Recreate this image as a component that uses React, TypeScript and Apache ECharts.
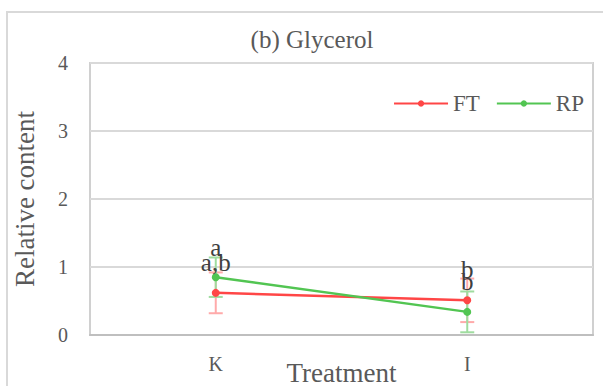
import React, { useEffect, useRef } from "react";
import * as echarts from "echarts";

const categories = ["K", "I"];
const ftValues = [0.62, 0.51];
const ftErrors = [0.3, 0.32];
const rpValues = [0.85, 0.34];
const rpErrors = [0.29, 0.3];
const ftLetters = ["a,b", "b"];
const rpLetters = ["a", "b"];
const yTicks = [0, 1, 2, 3, 4];

const FONT = "Liberation Serif";
const TEXT = "#595959";
const RED = "#FF4646";
const GREEN = "#52C552";
const RED_ERR = "#FFAAAA";
const GREEN_ERR = "#9FDC9F";

// Vertical error bars with caps, one custom series per group.
function errorSeries(name: string, values: number[], errors: number[], color: string) {
  const data = values.map((v, i) => [i, v, errors[i]]);
  return {
    type: "custom",
    name: name + "-err",
    z: 1,
    data,
    renderItem: (params: any, api: any) => {
      const x = api.value(0);
      const v = api.value(1);
      const e = api.value(2);
      const top = api.coord([x, v + e]);
      const bot = api.coord([x, v - e]);
      const half = 7;
      const lineStyle = { stroke: color, lineWidth: 2 };
      return {
        type: "group",
        children: [
          { type: "line", shape: { x1: top[0], y1: top[1], x2: bot[0], y2: bot[1] }, style: lineStyle },
          { type: "line", shape: { x1: top[0] - half, y1: top[1], x2: top[0] + half, y2: top[1] }, style: lineStyle },
          { type: "line", shape: { x1: bot[0] - half, y1: bot[1], x2: bot[0] + half, y2: bot[1] }, style: lineStyle },
        ],
      };
    },
  };
}

// Significance letters sitting just above each error bar's upper cap.
function letterSeries(name: string, values: number[], errors: number[], letters: string[]) {
  const data = values.map((v, i) => [i, v + errors[i], letters[i]]);
  return {
    type: "custom",
    name: name + "-letters",
    z: 5,
    data,
    renderItem: (params: any, api: any) => {
      const p = api.coord([api.value(0), api.value(1)]);
      return {
        type: "text",
        x: p[0],
        y: p[1] + 3,
        style: {
          text: api.value(2),
          fill: "#404040",
          fontFamily: FONT,
          fontSize: 25,
          align: "center",
          verticalAlign: "bottom",
        },
      };
    },
  };
}

export default function App() {
  const ref = useRef<HTMLDivElement>(null);
  useEffect(() => {
    if (!ref.current) return;
    const chart = echarts.init(ref.current, undefined, { renderer: "svg" });
    chart.setOption({
      animation: false,
      backgroundColor: "#ffffff",
      textStyle: { fontFamily: FONT },
      title: {
        text: "(b) Glycerol",
        left: 307,
        top: 22,
        textAlign: "center",
        textStyle: { fontFamily: FONT, fontSize: 25, fontWeight: "normal", color: TEXT },
      },
      legend: {
        right: 14,
        top: 87,
        itemWidth: 54,
        itemHeight: 8,
        itemGap: 16,
        textStyle: { fontFamily: FONT, fontSize: 23, color: TEXT },
        data: ["FT", "RP"],
      },
      graphic: [
        {
          type: "rect",
          shape: { x: 7, y: 12, width: 620, height: 400 },
          style: { fill: "none", stroke: "#D9D9D9", lineWidth: 2 },
          z: -1,
        },
      ],
      grid: {
        left: 90,
        right: 10,
        top: 63,
        bottom: 51,
        outerBoundsMode: "none",
        containLabel: false,
        show: true,
        borderColor: "#D0D0D0",
        borderWidth: 2,
      },
      xAxis: {
        type: "category",
        data: categories,
        name: "Treatment",
        nameLocation: "middle",
        nameGap: 24,
        nameMoveOverlap: false,
        nameTextStyle: { fontFamily: FONT, fontSize: 27, color: TEXT },
        axisLine: { show: true, lineStyle: { color: "#BFBFBF", width: 2 } },
        axisTick: { show: false },
        axisLabel: { fontFamily: FONT, fontSize: 20, color: TEXT, margin: 19 },
      },
      yAxis: {
        type: "value",
        min: yTicks[0],
        max: yTicks[yTicks.length - 1],
        interval: 1,
        name: "Relative content",
        nameLocation: "middle",
        nameGap: 52,
        nameMoveOverlap: false,
        nameTextStyle: { fontFamily: FONT, fontSize: 27, color: TEXT },
        axisLine: { show: false },
        axisTick: { show: false },
        axisLabel: { fontFamily: FONT, fontSize: 20, color: TEXT, margin: 22 },
        splitLine: { lineStyle: { color: "#D9D9D9", width: 2 } },
      },
      series: [
        errorSeries("FT", ftValues, ftErrors, RED_ERR),
        errorSeries("RP", rpValues, rpErrors, GREEN_ERR),
        {
          type: "line",
          name: "FT",
          data: ftValues,
          z: 3,
          symbol: "circle",
          symbolSize: 8,
          itemStyle: { color: RED },
          lineStyle: { color: RED, width: 2.5 },
        },
        {
          type: "line",
          name: "RP",
          data: rpValues,
          z: 3,
          symbol: "circle",
          symbolSize: 8,
          itemStyle: { color: GREEN },
          lineStyle: { color: GREEN, width: 2.5 },
        },
        letterSeries("FT", ftValues, ftErrors, ftLetters),
        letterSeries("RP", rpValues, rpErrors, rpLetters),
      ],
    });
    return () => chart.dispose();
  }, []);
  return <div ref={ref} style={{ width: 603, height: 386, position: "absolute", left: 0, top: 0 }} />;
}
